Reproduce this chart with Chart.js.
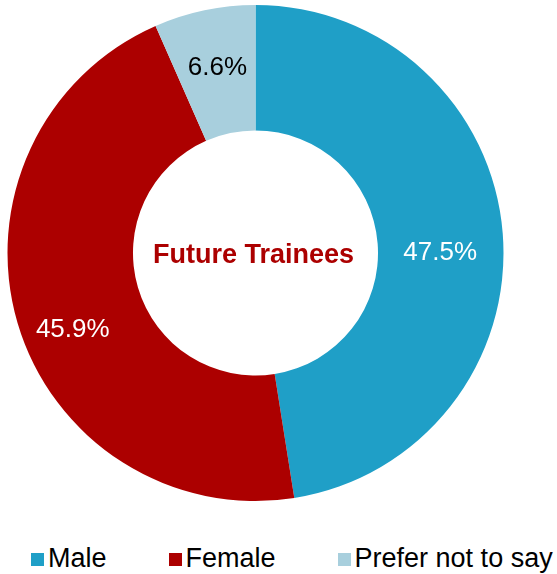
<!DOCTYPE html>
<html>
<head>
<meta charset="utf-8">
<script src="https://cdn.jsdelivr.net/npm/chart.js@4/dist/chart.umd.min.js"></script>
<style>
  body { margin: 0; background: #fff; font-family: "Liberation Sans", Arial, sans-serif; }
  #wrap { position: relative; width: 557px; height: 574px; }
  #chartBox { position: absolute; left: 0; top: 0; width: 511px; height: 506px; }
  #legend { position: absolute; left: 31px; top: 543px; display: flex; align-items: center; font-size: 27px; color: #000; }
  .item { display: flex; align-items: center; margin-right: 62px; }
  .item:last-child { margin-right: 0; }
  .box { width: 13px; height: 13px; margin-right: 4px; margin-top: 2px; }
</style>
</head>
<body>
<div id="wrap">
  <div id="chartBox"><canvas id="traineeChart"></canvas></div>
  <div id="legend"></div>
</div>
<script>
const categories = ["Male", "Female", "Prefer not to say"];
const shares = [47.5, 45.9, 6.6];
const sliceColors = ["#1f9fc7", "#ac0000", "#a8cfdd"];
const labelColors = ["#ffffff", "#ffffff", "#000000"];
const centerTitle = "Future Trainees";

// small nudges so the % labels sit where the original put them
const labelNudge = [[0, 14], [-5, 25], [0, -4]];

const percentLabels = {
  id: "percentLabels",
  afterDatasetsDraw(chart) {
    const ctx = chart.ctx;
    const arcs = chart.getDatasetMeta(0).data;
    ctx.save();
    ctx.font = "26px 'Liberation Sans', Arial, sans-serif";
    ctx.textAlign = "center";
    ctx.textBaseline = "middle";
    arcs.forEach((arc, i) => {
      const pos = arc.tooltipPosition();
      ctx.fillStyle = labelColors[i];
      ctx.fillText(shares[i].toFixed(1) + "%", pos.x + labelNudge[i][0], pos.y + labelNudge[i][1]);
    });

    // title in the hole
    const first = arcs[0];
    ctx.font = "bold 27px 'Liberation Sans', Arial, sans-serif";
    ctx.fillStyle = "#ac0000";
    ctx.fillText(centerTitle, first.x - 2, first.y + 3);
    ctx.restore();
  },
};

const config = {
  type: "doughnut",
  data: {
    labels: categories,
    datasets: [
      {
        data: shares,
        backgroundColor: sliceColors,
        borderWidth: 0,
      },
    ],
  },
  options: {
    responsive: true,
    maintainAspectRatio: false,
    animation: false,
    cutout: "49.4%",
    layout: { padding: 5 },
    plugins: {
      legend: { display: false },
      tooltip: { enabled: false },
    },
  },
  plugins: [percentLabels],
};

const chart = new Chart(document.getElementById("traineeChart"), config);

// legend as html, built from the same arrays
const legendEl = document.getElementById("legend");
categories.forEach((name, i) => {
  const item = document.createElement("div");
  item.className = "item";
  const box = document.createElement("span");
  box.className = "box";
  box.style.background = sliceColors[i];
  const txt = document.createElement("span");
  txt.textContent = name;
  item.appendChild(box);
  item.appendChild(txt);
  legendEl.appendChild(item);
});
</script>
</body>
</html>
